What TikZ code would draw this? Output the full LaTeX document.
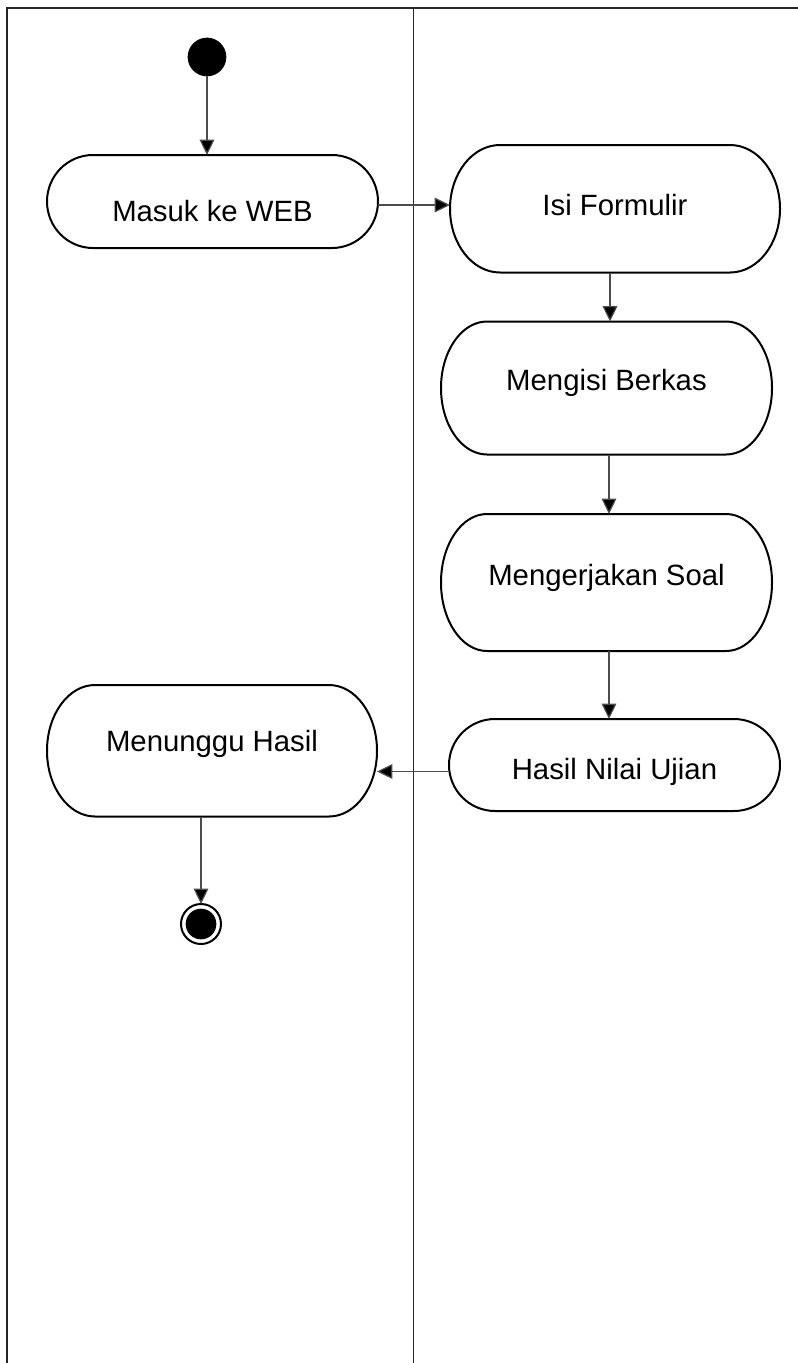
\documentclass[tikz,border=0pt]{standalone}
\usepackage{fontspec}
\setmainfont{Liberation Sans}
\usetikzlibrary{arrows.meta,calc}
\tikzset{
  lane/.style={line width=1pt, black!85},
  actframe/.style={rectangle, draw=none, inner sep=0pt, outer sep=0pt},
  actline/.style={line width=1.5pt, black},
  acttext/.style={font=\fontsize{22}{26}\selectfont, inner sep=0pt},
  flow/.style={line width=0.9pt, black!70, -{Triangle[length=11.5pt,width=11pt,fill=black]}},
  startnode/.style={circle, fill=black, draw=none, minimum size=29pt, inner sep=0pt, outer sep=0pt},
  endnode/.style={circle, draw=black, line width=1.5pt, fill=white, minimum size=30pt, inner sep=0pt, outer sep=0pt},
}
\newcommand\actbox[8]{%
  \node[actframe, minimum width=#4*0.75pt, minimum height=#5*0.75pt] (#1) at (#2,#3) {};
  \draw[actline] ([xshift=#6*0.75pt]#1.north west) -- ([xshift=-#6*0.75pt]#1.north east)
     arc[start angle=90, end angle=-90, x radius=#6*0.75pt, y radius=#5*0.375pt]
     -- ([xshift=#6*0.75pt]#1.south west)
     arc[start angle=270, end angle=90, x radius=#6*0.75pt, y radius=#5*0.375pt] -- cycle;
  \node[acttext] (#1-t) at ($(#1.center)+(0,#7)$) {#8};
}
\begin{document}
\begin{tikzpicture}[x=0.75pt, y=-0.75pt]
\useasboundingbox (0,0) rectangle (798,1363);
% swimlanes
\draw[lane] (7,1363) -- (7,8) -- (798,8);
\draw[lane] (413.5,8) -- (413.5,1363);
% activities
\actbox{masuk}{212.5}{201.5}{331}{93}{46}{10}{Masuk ke WEB}
\actbox{isi}{615}{208.75}{330}{127.5}{50}{-4}{Isi Formulir}
\actbox{mengisi}{606.5}{388}{331}{133}{46}{-5}{Mengisi Berkas}
\actbox{mengerjakan}{606.5}{582.5}{331}{137}{46}{-5}{Mengerjakan Soal}
\actbox{hasil}{614.5}{765}{331}{92}{46}{7}{Hasil Nilai Ujian}
\actbox{menunggu}{212}{750.75}{330}{131.5}{48}{-7}{Menunggu Hasil}
% start / end
\node[startnode] (start) at (207,57) {};
\node[endnode] (end) at (201,924) {};
\fill (end.center) circle (11.5pt);
% connectors
\coordinate (lx1) at (610,0);
\coordinate (lx2) at (609,0);
\coordinate (ly1) at (0,205);
\coordinate (ly2) at (0,771.5);
\draw[flow] (start) -- (start |- masuk.north);
\draw[flow] (masuk.east |- ly1) -- (isi.west |- ly1);
\draw[flow] (isi.south -| lx1) -- (mengisi.north -| lx1);
\draw[flow] (mengisi.south -| lx2) -- (mengerjakan.north -| lx2);
\draw[flow] (mengerjakan.south -| lx2) -- (hasil.north -| lx2);
\draw[flow] (hasil.west |- ly2) -- (menunggu.east |- ly2);
\draw[flow] (menunggu.south -| end) -- (end);
\end{tikzpicture}
\end{document}
